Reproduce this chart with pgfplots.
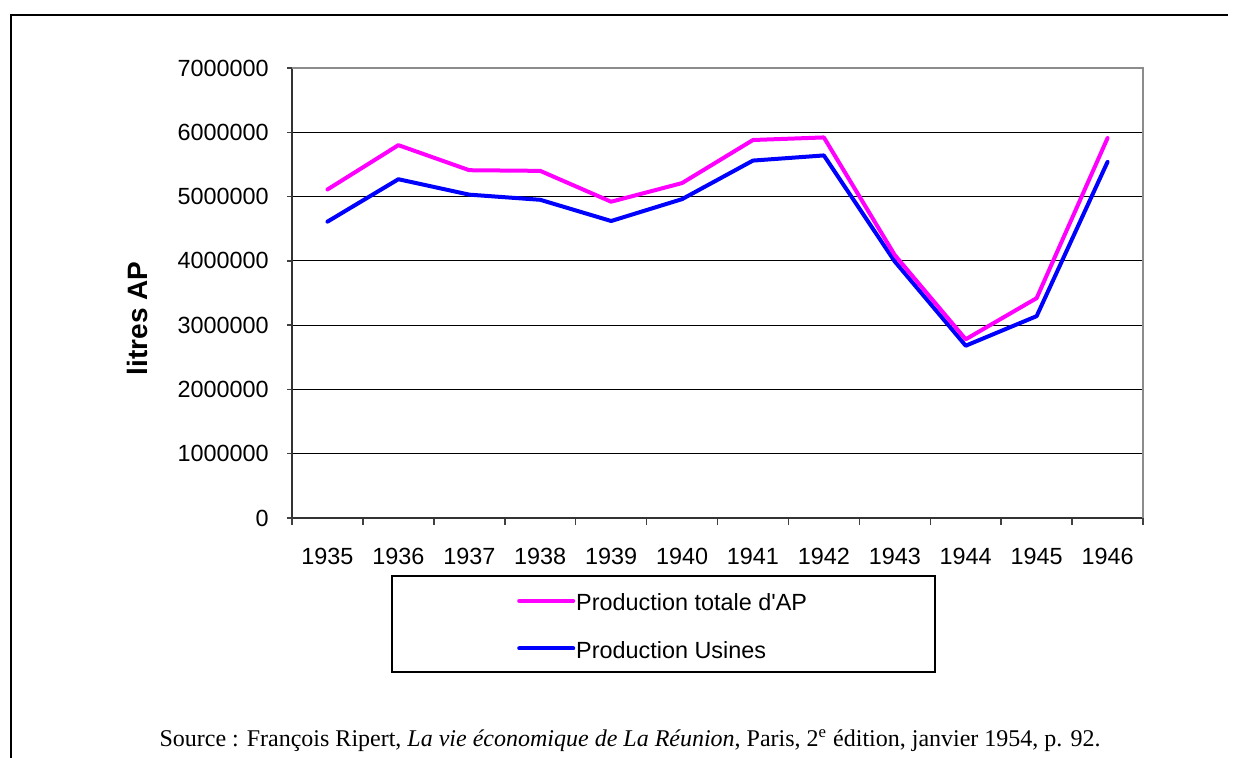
\documentclass[border=0pt]{standalone}
\usepackage{fontspec}
\setmainfont{Liberation Serif}
\newfontfamily\arial{Liberation Sans}
\usepackage{pgfplots}
\pgfplotsset{compat=1.18}
\definecolor{pinkline}{RGB}{255,0,255}
\definecolor{blueline}{RGB}{0,0,255}
\definecolor{axgray}{RGB}{140,140,140}
\begin{document}
\begin{tikzpicture}
\useasboundingbox (0,0) rectangle (618.5bp,-379bp);
\fill[white] (0,0) rectangle (618.5bp,-379bp);
\draw[line width=1bp] (5.5bp,-379bp) -- (5.5bp,-7.5bp) -- (614bp,-7.5bp);
\begin{axis}[
  at={(146bp,-259bp)}, anchor=south west,
  scale only axis, width=425.5bp, height=225bp,
  xmin=-0.5, xmax=11.5, ymin=0, ymax=7000000,
  scaled y ticks=false,
  axis x line*=bottom, axis y line*=left,
  axis line style={line width=1bp, draw=black!80},
  xtick={0,1,2,3,4,5,6,7,8,9,10,11},
  xticklabels={1935,1936,1937,1938,1939,1940,1941,1942,1943,1944,1945,1946},
  major x tick style={draw=none},
  minor xtick={-0.5,0.5,1.5,2.5,3.5,4.5,5.5,6.5,7.5,8.5,9.5,10.5,11.5},
  minor tick length=3.5bp,
  ytick={0,1000000,2000000,3000000,4000000,5000000,6000000,7000000},
  yticklabels={0,1000000,2000000,3000000,4000000,5000000,6000000,7000000},
  major tick length=2.5bp,
  tick align=outside,
  tick style={black!75, line width=0.75bp},
  ymajorgrids,
  major grid style={black, line width=0.5bp},
  ticklabel style={font=\arial\fontsize{11.7bp}{13bp}\selectfont, inner sep=0pt},
  xticklabel style={anchor=north, yshift=-12.5bp},
  yticklabel style={anchor=east, xshift=-9bp},
  ylabel={litres AP},
  every axis y label/.style={at={(axis description cs:-0.181,0.444)}, rotate=90, anchor=center, font=\arial\bfseries\fontsize{14bp}{16bp}\selectfont},
  legend style={at={(axis description cs:0.2642,-0.2458)}, anchor=west, draw=none, fill=none,
    inner sep=0pt, row sep=12.8bp, column sep=0.5bp,
    nodes={inner sep=0pt, anchor=west, text height=8.5bp, text depth=2.5bp, font=\arial\fontsize{11.7bp}{13bp}\selectfont}},
  legend image code/.code={\draw[#1] (0bp,2bp) -- (27bp,2bp);},
  reverse legend,
  clip=false,
]
\addplot[blueline, line width=2bp, line join=round, line cap=round] coordinates {
  (0,4610000) (1,5270000) (2,5030000) (3,4950000) (4,4620000) (5,4960000)
  (6,5560000) (7,5640000) (8,3990000) (9,2680000) (10,3140000) (11,5540000)};
\addlegendentry{Production Usines}
\addplot[pinkline, line width=2bp, line join=round, line cap=round] coordinates {
  (0,5110000) (1,5800000) (2,5410000) (3,5400000) (4,4920000) (5,5210000)
  (6,5880000) (7,5920000) (8,4090000) (9,2780000) (10,3420000) (11,5910000)};
\addlegendentry{Production totale d'AP}
\draw[axgray, line width=1bp] (rel axis cs:0,1) -- (rel axis cs:1,1) -- (rel axis cs:1,0);
\end{axis}
\draw[line width=0.6bp] (196bp,-288bp) rectangle (467.5bp,-336bp);
\node[anchor=base, inner sep=0pt, font=\fontsize{12bp}{14bp}\selectfont] at (315bp,-373.3bp)
  {Source : François Ripert, \textit{La vie économique de La Réunion}, Paris, 2\textsuperscript{e} édition, janvier 1954, p. 92.};
\end{tikzpicture}
\end{document}
